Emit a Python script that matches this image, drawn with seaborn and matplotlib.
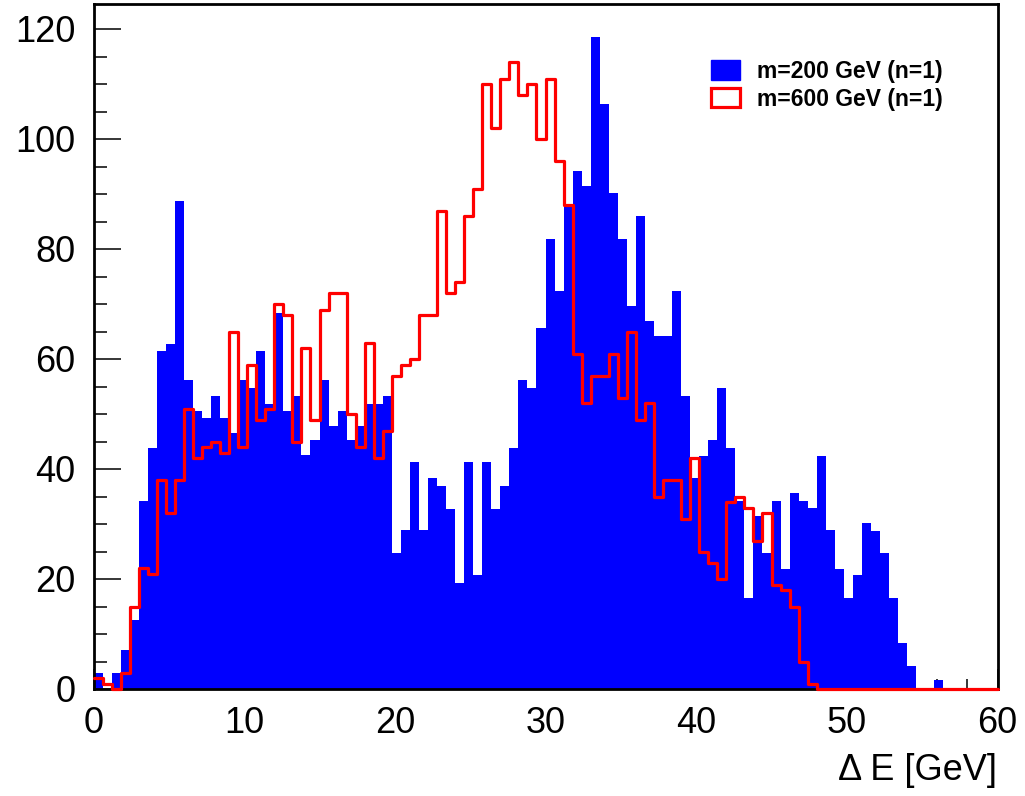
import numpy as np
import pandas as pd
import matplotlib
matplotlib.use("Agg")
import matplotlib.pyplot as plt
from matplotlib.patches import Patch
from matplotlib.ticker import MultipleLocator
import seaborn as sns

# Histogram binning: 100 bins over 0-60 GeV
n_bins = 100
e_low, e_high = 0.0, 60.0

# Bin contents, m = 200 GeV (n=1)
counts_m200 = [
    3.0, 0.0, 3.0, 7.1, 12.5, 34.2, 43.9, 61.5, 62.8, 88.7,
    56.1, 50.6, 49.2, 53.3, 49.2, 46.5, 56.1, 54.7, 61.5, 51.9,
    68.3, 50.6, 53.3, 42.5, 45.2, 56.1, 47.9, 50.6, 45.2, 47.9,
    51.9, 51.9, 53.3, 24.8, 28.9, 41.2, 28.9, 38.3, 37.0, 32.8,
    19.3, 41.2, 20.7, 41.2, 32.8, 37.0, 43.9, 56.2, 54.7, 65.6,
    81.8, 72.4, 87.7, 94.1, 91.5, 118.6, 106.3, 90.1, 81.8, 69.7,
    86.0, 66.9, 64.2, 64.2, 72.4, 53.3, 38.3, 42.4, 45.2, 54.7,
    43.8, 34.2, 16.6, 31.5, 24.8, 34.2, 21.9, 35.6, 34.2, 33.0,
    42.4, 28.9, 21.9, 16.6, 20.7, 30.1, 28.8, 24.8, 16.6, 8.3,
    4.2, 0.0, 0.0, 1.6, 0.0, 0.0, 0.0, 0.0, 0.0, 0.0,
]

# Bin contents, m = 600 GeV (n=1)
counts_m600 = [
    2, 1, 0, 3, 15, 22, 21, 38, 32, 38,
    51, 42, 44, 45, 43, 65, 44, 59, 49, 51,
    70, 68, 45, 62, 49, 69, 72, 72, 50, 44,
    63, 42, 47, 57, 59, 60, 68, 68, 87, 72,
    74, 86, 91, 110, 102, 111, 114, 108, 110, 100,
    111, 96, 88, 61, 52, 57, 57, 61, 53, 65,
    49, 52, 35, 38, 38, 31, 42, 25, 23, 20,
    34, 35, 33, 27, 32, 19, 18, 15, 5, 1,
    0, 0, 0, 0, 0, 0, 0, 0, 0, 0,
    0, 0, 0, 0, 0, 0, 0, 0, 0, 0,
]

series_labels = ["m=200 GeV (n=1)", "m=600 GeV (n=1)"]
x_label = "\u0394 E [GeV]"

bin_width = (e_high - e_low) / n_bins
centers = e_low + bin_width * (np.arange(n_bins) + 0.5)
df = pd.DataFrame({"dE": centers, "w200": counts_m200, "w600": counts_m600})

sns.set_theme(style="white")
plt.rcParams["font.family"] = ["Liberation Sans", "DejaVu Sans"]
plt.rcParams["text.color"] = "black"
plt.rcParams["axes.labelcolor"] = "black"

fig = plt.figure(figsize=(10.25, 7.96), dpi=100)
ax = fig.add_axes([93.5 / 1025, 107 / 796, 904 / 1025, 124.5 * 5.5 / 796])

blue = "#0000ff"
red = "#ff0000"

sns.histplot(data=df, x="dE", weights="w200", bins=n_bins, binrange=(e_low, e_high),
             element="step", fill=True, color=blue, alpha=1.0, linewidth=0, ax=ax)
sns.histplot(data=df, x="dE", weights="w600", bins=n_bins, binrange=(e_low, e_high),
             element="step", fill=False, color=red, linewidth=2.3, ax=ax)

for ln in ax.lines:
    ln.set_zorder(3)
    ln.set_clip_on(False)

ax.set_xlim(e_low, e_high)
ax.set_ylim(0, 124.5)

ax.xaxis.set_major_locator(MultipleLocator(10))
ax.xaxis.set_minor_locator(MultipleLocator(2))
ax.yaxis.set_major_locator(MultipleLocator(20))
ax.yaxis.set_minor_locator(MultipleLocator(5))

ax.tick_params(axis="x", which="both", direction="in", bottom=True, top=False,
               labelsize=26, pad=12, colors="black")
ax.tick_params(axis="x", which="major", length=14.5, width=1.1)
ax.tick_params(axis="x", which="minor", length=7.2, width=1.1)
ax.tick_params(axis="y", which="both", direction="in", left=True, right=False,
               labelsize=26, pad=13, colors="black")
ax.tick_params(axis="y", which="major", length=19.5, width=1.1)
ax.tick_params(axis="y", which="minor", length=9.5, width=1.1)

for sp in ax.spines.values():
    sp.set_visible(True)
    sp.set_color("black")
    sp.set_linewidth(2.0)

ax.set_xlabel(x_label, fontsize=26, ha="right", x=1.0, labelpad=9, color="black")
ax.set_ylabel("")

handles = [
    Patch(facecolor=blue, edgecolor=blue, linewidth=1),
    Patch(facecolor="white", edgecolor=red, linewidth=2.3),
]
ax.legend(handles, series_labels, loc="upper left",
          bbox_to_anchor=(711 / 1025, 1 - 60 / 796), bbox_transform=fig.transFigure,
          frameon=False, prop={"weight": "bold", "size": 16.5},
          handlelength=1.27, handleheight=0.92, handletextpad=0.72,
          labelspacing=0.2, borderpad=0, borderaxespad=0)

fig.savefig("out.png", dpi=100, facecolor="white")
